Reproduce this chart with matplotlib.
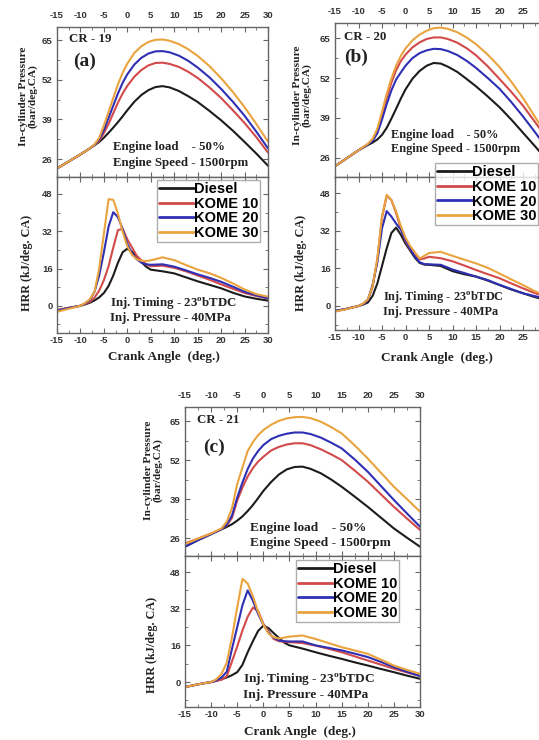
import matplotlib
matplotlib.use("Agg")
import matplotlib.pyplot as plt
from matplotlib.ticker import MultipleLocator

# angulos de ciguenal (deg.)
angulo_p = [-15, -12.5, -10, -8, -7, -6, -5, -4, -3, -2, -1, 0, 1.5, 3, 4.5, 6, 7.5,
            9, 11, 13, 15, 17.5, 20, 22.5, 25, 27.5, 30]
angulo_h = [-15, -12.5, -10, -9, -8, -7, -6, -5, -4, -3, -2, -1, 0, 1, 2, 3, 4, 5,
            7.5, 10, 12.5, 15, 17.5, 20, 22.5, 25, 27.5, 30]

combustibles = ["Diesel", "KOME 10", "KOME 20", "KOME 30"]
colores = ["#1c1c1c", "#d24a4a", "#2f2fb4", "#e9a43f"]

# CR - 19 : presion en cilindro
p19_diesel = [22.9, 25.2, 27.5, 29.5, 30.5, 31.6, 33, 34.6, 36.3, 38.1, 40, 42, 44.8, 47, 48.6, 49.6, 49.9,
              49.5, 48.3, 46.6, 44.7, 41.8, 38.7, 35.3, 31.6, 27.8, 23.8]
p19_k10 = [22.9, 25.2, 27.5, 29.5, 30.6, 32, 34.5, 37.5, 41, 44.5, 47.5, 50, 53, 55.2, 56.7, 57.5, 57.6,
           57.2, 56.2, 54.6, 52.6, 49.5, 46, 42, 37.8, 33.2, 28.1]
p19_k20 = [22.9, 25.2, 27.5, 29.5, 30.7, 32.5, 35.5, 39.5, 43.5, 47.5, 51, 53.8, 57, 59.2, 60.6, 61.3, 61.4,
           61, 59.9, 58.2, 56, 52.8, 49, 44.8, 40.2, 35, 29.5]
p19_k30 = [22.9, 25.2, 27.5, 29.5, 30.8, 33, 37, 41.5, 46, 50.5, 54.3, 57.3, 60.8, 63, 64.4, 65.1, 65.2,
           64.8, 63.7, 62, 59.8, 56.5, 52.5, 48, 43, 37.5, 31.7]

# CR - 19 : tasa de liberacion de calor
h19_diesel = [-1.9, -0.9, 0, 0.6, 1.3, 2.3, 3.6, 5.5, 8.5, 13, 18.5, 23, 24.5, 23.2, 21, 18.8, 16.8, 15.5,
              14.8, 13.9, 12.2, 10.5, 9, 7.5, 5.6, 4, 3, 2.2]
h19_k10 = [-1.9, -0.9, 0, 0.8, 1.7, 3.5, 6.5, 11, 17, 25, 32.5, 33, 28.5, 25, 21.5, 19.5, 17.8, 17,
           17.2, 16.3, 14.8, 13, 11.2, 9.2, 7.3, 5.5, 4.2, 3.2]
h19_k20 = [-2.2, -1, 0, 1, 2.5, 6, 13, 23, 34, 40.2, 38, 33, 26.5, 22.5, 20, 18.5, 17.8, 17.6,
           17.8, 16.8, 15.2, 13.5, 12, 10.3, 8.2, 6, 4.5, 3.2]
h19_k30 = [-2.6, -1.3, 0, 1.2, 2.8, 6, 16, 31, 45.8, 45.5, 39.5, 31.8, 25.5, 21.8, 20, 19.3, 19.2, 19.5,
           20.8, 19.6, 17.5, 15.5, 14, 12, 9.6, 7, 5, 3.9]

# CR - 20
p20_diesel = [23.3, 25.9, 28.5, 30.2, 31, 32, 33.5, 35.8, 38.8, 42, 45.3, 48.3, 51.8, 54.3, 56, 56.9, 56.7,
              55.7, 54, 51.7, 49.3, 46, 42.5, 38.5, 34.2, 29.9, 25.5]
p20_k10 = [23.3, 25.9, 28.5, 30.5, 32, 35, 40, 45.5, 50.5, 54.5, 57.5, 59.6, 62, 63.6, 64.7, 65.2, 65.2,
           64.7, 63.5, 61.7, 59.4, 55.8, 51.7, 47.5, 43, 37.8, 32.5]
p20_k20 = [23.3, 25.9, 28.5, 30.4, 31.5, 34, 38.5, 43.5, 48, 51.5, 53.8, 56, 58.5, 60.1, 61, 61.5, 61.4,
           60.8, 59.5, 57.6, 55.3, 52, 48.5, 44.2, 39.5, 34.5, 29.3]
p20_k30 = [23.3, 25.9, 28.5, 30.6, 32.2, 35.5, 41, 46.8, 51.8, 56, 59.2, 61.6, 64.3, 66.1, 67.4, 68.2, 68.4,
           68, 66.9, 65.2, 63, 59.6, 55.6, 50.8, 45.5, 39.5, 33.5]

h20_diesel = [-2.1, -1.2, 0, 0.6, 1.5, 4.3, 9.5, 17, 24.5, 31, 33.3, 30.3, 26.5, 23.5, 20.5, 18.3, 17.6, 17.5,
              17, 14.8, 13.5, 12.5, 10.8, 8.9, 7, 5.4, 3.8, 2.5]
h20_k10 = [-2.3, -1.2, 0, 1, 2.8, 8, 19.5, 37.5, 46.8, 45, 39.5, 33, 27.5, 24, 21.5, 19.8, 20.2, 20.9,
           20.3, 19, 17.2, 15.3, 13.5, 11.8, 9.6, 7.5, 5.5, 3.8]
h20_k20 = [-2.1, -1.2, 0, 0.8, 2.5, 9, 18.5, 33, 40.3, 38, 35, 32.5, 28, 24.3, 21, 18.6, 17.8, 17.7,
           17.5, 15.5, 14, 12.5, 11, 9, 7.2, 5.4, 4.2, 3]
h20_k30 = [-2.4, -1.3, 0, 1, 2.8, 8.5, 20, 38, 47.2, 45, 40.2, 34, 29, 25.5, 22.8, 20.2, 21.3, 22.5,
           23, 21.3, 19.7, 18.1, 16.2, 13.8, 11.3, 8.9, 6.3, 4.5]

# CR - 21
p21_diesel = [23.1, 25.3, 27.3, 28.9, 29.7, 30.6, 31.8, 33.2, 35, 37, 39.3, 41.7, 44.7, 47.2, 48.9, 49.7, 49.8,
              49.1, 47.6, 45.5, 43.1, 39.8, 36.4, 32.8, 29.2, 26.1, 23.1]
p21_k10 = [24.2, 25.8, 27.5, 29, 30.3, 32.7, 38.5, 42.8, 46.5, 49.3, 51.5, 53.1, 55.2, 56.4, 57.2, 57.6, 57.6,
           57, 55.6, 53.9, 52, 48.5, 44.8, 40.6, 36.4, 32.5, 28.7]
p21_k20 = [23.1, 25.3, 27.3, 29, 30.5, 33.5, 39.5, 44.5, 49, 52.5, 55, 57, 59, 60.1, 60.8, 61.2, 61.2,
           60.7, 59.5, 57.8, 55.9, 52.2, 48.1, 43.4, 38.7, 34.2, 29.8]
p21_k30 = [24, 25.8, 27.5, 29.2, 31.5, 36, 44, 49.5, 55, 58, 60.3, 62, 63.8, 65.1, 65.9, 66.3, 66.4,
           66, 64.8, 63, 60.9, 56.9, 52.5, 47.8, 43.1, 39, 34.8]

h21_diesel = [-2.2, -1, 0, 0.5, 1.2, 2, 3, 4.3, 7.5, 13, 17.8, 22.3, 24.6, 23.5, 21.3, 19.2, 17.2, 16,
              14.6, 13, 11.5, 10.1, 8.6, 7.2, 5.7, 4.3, 2.8, 1.4]
h21_k10 = [-2.2, -1, 0, 0.6, 1, 2.5, 9, 15.5, 22.5, 28.5, 32.5, 31, 25.4, 22, 18.8, 17.8, 17.6, 17.4,
           17, 15.9, 14.5, 13, 11.2, 9.4, 7.6, 5.8, 4.2, 2.6]
h21_k20 = [-2.2, -1, 0, 0.8, 2, 4.5, 14.5, 24, 33.5, 40, 35.5, 29.7, 25, 21.5, 19.3, 18.2, 17.8, 17.7,
           17.7, 16, 14.9, 13.8, 12.4, 10.9, 8.8, 6.5, 4.5, 2.6]
h21_k30 = [-2.2, -1, 0, 1.2, 3.6, 8.5, 19.5, 32.6, 45, 43, 37.5, 30.6, 25, 21.2, 19.5, 19, 19.4, 19.8,
           20.3, 18.8, 17, 15.2, 13.8, 12.3, 9.8, 7.2, 5.3, 3.6]

ticks_p = [26, 39, 52, 65]
ticks_h = [0, 16, 32, 48]

W, H = 539, 740
fig = plt.figure(figsize=(W / 100, H / 100), dpi=100)

SERIF = "Liberation Serif"
SANS = "Liberation Sans"
plt.rcParams["axes.unicode_minus"] = False
plt.rcParams["mathtext.fontset"] = "custom"
plt.rcParams["mathtext.rm"] = "Liberation Serif:bold"
plt.rcParams["mathtext.bf"] = "Liberation Serif:bold"


def px(x, y):
    return x / W, 1 - y / H


def caja(x0, y0, x1, y1):
    return [x0 / W, 1 - y1 / H, (x1 - x0) / W, (y1 - y0) / H]


def ejes(ax, ylim, yticks, arriba):
    ax.set_xlim(-15, 30)
    ax.set_ylim(*ylim)
    ax.set_xticks(range(-15, 31, 5))
    ax.set_yticks(yticks)
    ax.xaxis.set_minor_locator(MultipleLocator(2.5))
    ax.yaxis.set_minor_locator(MultipleLocator((yticks[1] - yticks[0]) / 2))
    ax.tick_params(which="both", direction="in", top=True, right=True, color="#666666")
    ax.tick_params(which="major", length=3.5, width=0.8)
    ax.tick_params(which="minor", length=2, width=0.6)
    ax.tick_params(axis="y", pad=3)
    if arriba:
        ax.tick_params(axis="x", labeltop=True, labelbottom=False, pad=5)
    else:
        ax.tick_params(axis="x", pad=2)
    for lab in ax.get_xticklabels() + ax.get_yticklabels():
        lab.set_fontfamily(SANS)
        lab.set_fontweight("bold")
        lab.set_fontsize(6.8)
        lab.set_color("#333333")
    for s in ax.spines.values():
        s.set_color("#666666")
        s.set_linewidth(1.0)


def texto(x, y, s, size, **kw):
    fig.text(*px(x, y), s, fontfamily=SERIF, fontweight="bold", fontsize=size,
             color="#222222", **kw)


def panel(rect_p, rect_h, presion, calor, ylim_p, ylim_h, etiquetas, ley):
    ax1 = fig.add_axes(rect_p)
    ax2 = fig.add_axes(rect_h)
    lineas = []
    for serie, col in zip(presion, colores):
        ax1.plot(angulo_p, serie, color=col, lw=1.5, solid_capstyle="round")
    for serie, col, nom in zip(calor, colores, combustibles):
        l, = ax2.plot(angulo_h, serie, color=col, lw=1.5, label=nom, solid_capstyle="round")
        lineas.append(l)
    ejes(ax1, ylim_p, ticks_p, True)
    ejes(ax2, ylim_h, ticks_h, False)

    for (x, y, s, size, kw) in etiquetas:
        texto(x, y, s, size, **kw)

    leg = fig.legend(lineas, combustibles, loc="upper left", bbox_to_anchor=px(*ley),
                     bbox_transform=fig.transFigure, frameon=True, fancybox=False,
                     handlelength=2.4, handletextpad=0.0, labelspacing=0.06,
                     borderpad=0.12, borderaxespad=0,
                     prop={"family": SANS, "weight": "bold", "size": 10.5})
    leg.get_frame().set_edgecolor("#9a9a9a")
    leg.get_frame().set_linewidth(1.0)
    for l in leg.get_lines():
        l.set_linewidth(2.0)


def rotulos(cr, letra, pos, fs):
    # pos: diccionario con las coordenadas (px) de cada rotulo
    vc = dict(va="center", ha="left")
    return [
        (*pos["cr"], cr, 9.3, vc),
        (*pos["letra"], letra, 14, vc),
        (*pos["carga"], "Engine load    - 50%", fs, vc),
        (*pos["vel"], "Engine Speed - 1500rpm", fs, vc),
        (*pos["iny"], r"Inj. Timing - 23$^{\mathrm{o}}$bTDC", fs, vc),
        (*pos["pres"], "Inj. Pressure - 40MPa", fs, vc),
        (*pos["xlab"], "Crank Angle  (deg.)", 9.5, dict(va="center", ha="center")),
        (*pos["ylab1"], "In-cylinder Pressure\n(bar/deg.CA)", 8.2,
         dict(va="center", ha="center", rotation=90, linespacing=1.05)),
        (*pos["ylab2"], "HRR (kJ/deg. CA)", 8.7, dict(va="center", ha="center", rotation=90)),
    ]


# (a) CR - 19
panel(caja(57, 27, 268, 177), caja(57, 177, 268, 333),
      [p19_diesel, p19_k10, p19_k20, p19_k30], [h19_diesel, h19_k10, h19_k20, h19_k30],
      (20.1, 69.3), (-11.7, 55.3),
      rotulos("CR - 19", "(a)", {"cr": (69, 39), "letra": (73, 61), "carga": (113, 147),
                                  "vel": (113, 163), "iny": (110, 304), "pres": (110, 318),
                                  "xlab": (164, 357), "ylab1": (28, 96), "ylab2": (27, 263)}, 9.3),
      (157, 180))

# (b) CR - 20
panel(caja(335, 23, 546.5, 177), caja(335, 177, 546.5, 330),
      [p20_diesel, p20_k10, p20_k20, p20_k30], [h20_diesel, h20_k10, h20_k20, h20_k30],
      (19.8, 69.9), (-10.2, 54.8),
      rotulos("CR - 20", "(b)", {"cr": (344, 37), "letra": (344, 57), "carga": (391, 135),
                                  "vel": (391, 149), "iny": (383, 298), "pres": (383, 312),
                                  "xlab": (437, 358), "ylab1": (302, 95), "ylab2": (301, 263)}, 8.8),
      (435, 163))

# (c) CR - 21
panel(caja(185, 407, 420, 556), caja(185, 556, 420, 707),
      [p21_diesel, p21_k10, p21_k20, p21_k30], [h21_diesel, h21_k10, h21_k20, h21_k30],
      (20.0, 69.7), (-10.9, 55.0),
      rotulos("CR - 21", "(c)", {"cr": (197, 420), "letra": (203, 447), "carga": (250, 528),
                                  "vel": (250, 543), "iny": (243, 680), "pres": (243, 695),
                                  "xlab": (300, 732), "ylab1": (153, 470), "ylab2": (152, 645)}, 9.6),
      (296, 560))

fig.savefig("out.png", dpi=100)
